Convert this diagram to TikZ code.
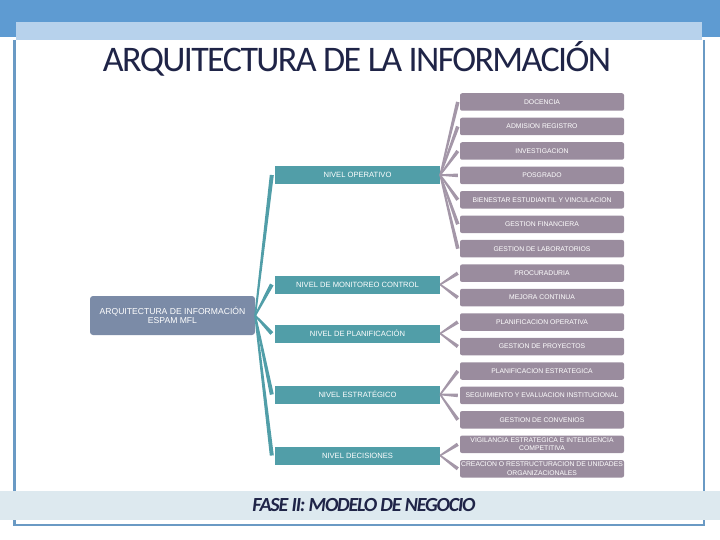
\documentclass[tikz,border=0pt]{standalone}
\usepackage{fontspec}
\setmainfont{Liberation Sans}
\newfontfamily\titlefont{Carlito}
\usepackage{tikz}
\usetikzlibrary{positioning, calc}

\definecolor{topblue}{HTML}{5E9BD2}
\definecolor{stripblue}{HTML}{B7D2EC}
\definecolor{framecol}{HTML}{6A9AC4}
\definecolor{bandgrey}{HTML}{DDE9EF}
\definecolor{titlenavy}{HTML}{1F2447}
\definecolor{rootslate}{HTML}{7B8BA7}
\definecolor{levelteal}{HTML}{519EA8}
\definecolor{itemgrey}{HTML}{9A8C9E}

\begin{document}
\begin{tikzpicture}[
        x=1pt, y=-1pt,
        rootbox/.style={rectangle, fill=rootslate, rounded corners=3pt, minimum width=165pt, minimum height=39pt, inner sep=0pt, align=center, text=white, font=\fontsize{8.6}{9}\selectfont},
        level/.style={rectangle, fill=levelteal, minimum width=165pt, minimum height=18pt, inner sep=0pt, text=white, font=\fontsize{7.6}{9}\selectfont},
        item/.style={rectangle, fill=itemgrey, rounded corners=2pt, minimum width=164pt, minimum height=17.5pt, inner sep=0pt, align=center, text=white, font=\fontsize{6.8}{8.4}\selectfont},
        tealwedge/.style={fill=levelteal},
        greywedge/.style={fill=itemgrey!90}
    ]
        \useasboundingbox (0,0) rectangle (720,540);

        % Frame
        \fill[topblue] (0,0) rectangle (720,37);
        \fill[stripblue] (16,22) rectangle (702,40);
        \draw[framecol, line width=2.5pt] (14.5,40) -- (14.5,525) -- (704,525) -- (704,40);
        \fill[bandgrey] (0,491) rectangle (720,520);

        % Titles
        \node[font=\titlefont\addfontfeature{LetterSpace=-4.5}\fontsize{36}{36}\selectfont, text=titlenavy] (title) at (357,59) {ARQUITECTURA DE LA INFORMACIÓN};
        \node[font=\titlefont\bfseries\itshape\addfontfeature{LetterSpace=-6}\fontsize{20}{20}\selectfont, text=titlenavy] (fase) at (364,505) {FASE II: MODELO DE NEGOCIO};

        % Nodes
        \node[rootbox] (arqinfo) at (172.5,315.5) {ARQUITECTURA DE INFORMACIÓN\\ESPAM MFL};

        \node[level] (operativo) at (357.5,175) {NIVEL OPERATIVO};
        \node[level] (monitoreo) at (357.5,284.5) {NIVEL DE MONITOREO CONTROL};
        \node[level] (planificacion) at (357.5,333.5) {NIVEL DE PLANIFICACIÓN};
        \node[level] (estrategico) at (357.5,394.5) {NIVEL ESTRATÉGICO};
        \node[level] (decisiones) at (357.5,455.5) {NIVEL DECISIONES};

        \node[item] (docencia) at (542,102) {DOCENCIA};
        \node[item] (admision) at (542,126.5) {ADMISION REGISTRO};
        \node[item] (investigacion) at (542,151) {INVESTIGACION};
        \node[item] (posgrado) at (542,175.4) {POSGRADO};
        \node[item] (bienestar) at (542,199.8) {BIENESTAR ESTUDIANTIL Y VINCULACION};
        \node[item] (financiera) at (542,224.3) {GESTION FINANCIERA};
        \node[item] (laboratorios) at (542,248.7) {GESTION DE LABORATORIOS};
        \node[item] (procuraduria) at (542,273.2) {PROCURADURIA};
        \node[item] (mejora) at (542,297.6) {MEJORA CONTINUA};
        \node[item] (planop) at (542,322) {PLANIFICACION OPERATIVA};
        \node[item] (proyectos) at (542,346.5) {GESTION DE PROYECTOS};
        \node[item] (planest) at (542,371) {PLANIFICACION ESTRATEGICA};
        \node[item] (seguimiento) at (542,395.4) {SEGUIMIENTO Y EVALUACION INSTITUCIONAL};
        \node[item] (convenios) at (542,419.8) {GESTION DE CONVENIOS};
        \node[item] (vigilancia) at (542,444.3) {VIGILANCIA ESTRATEGICA E INTELIGENCIA\\COMPETITIVA};
        \node[item] (creacion) at (542,468.8) {CREACION O RESTRUCTURACION DE UNIDADES\\ORGANIZACIONALES};

        % Connectors (tapered)
        \foreach \lv in {operativo, monitoreo, planificacion, estrategico, decisiones} {
            \coordinate (s) at (arqinfo.east);
            \coordinate (e) at ([xshift=-3pt]\lv.west);
            \fill[tealwedge] ($(s)!0.9pt!90:(e)$) -- ($(e)!2pt!-90:(s)$) -- ($(e)!2pt!90:(s)$) -- ($(s)!0.9pt!-90:(e)$) -- cycle;
        }
        \foreach \lv/\it in {operativo/docencia, operativo/admision, operativo/investigacion, operativo/posgrado,
                operativo/bienestar, operativo/financiera, operativo/laboratorios,
                monitoreo/procuraduria, monitoreo/mejora, planificacion/planop, planificacion/proyectos,
                estrategico/planest, estrategico/seguimiento, estrategico/convenios,
                decisiones/vigilancia, decisiones/creacion} {
            \coordinate (s) at (\lv.east);
            \coordinate (e) at ([xshift=-2pt]\it.west);
            \fill[greywedge] ($(s)!0.8pt!90:(e)$) -- ($(e)!1.8pt!-90:(s)$) -- ($(e)!1.8pt!90:(s)$) -- ($(s)!0.8pt!-90:(e)$) -- cycle;
        }
    \end{tikzpicture}
\end{document}
